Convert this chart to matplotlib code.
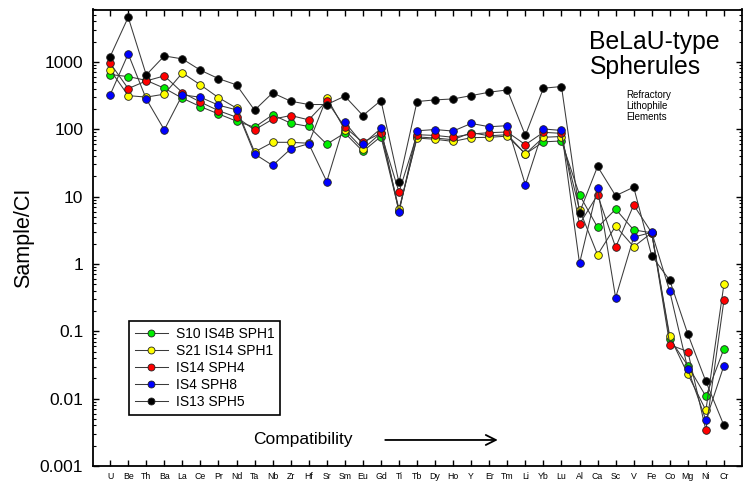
import matplotlib
matplotlib.use("Agg")
import matplotlib.pyplot as plt
from matplotlib.ticker import FixedLocator, LogLocator, NullFormatter, NullLocator

plt.rcParams['font.family'] = ['Liberation Sans', 'DejaVu Sans']

elements = ["U", "Be", "Th", "Ba", "La", "Ce", "Pr", "Nd", "Ta", "Nb", "Zr", "Hf", "Sr", "Sm",
            "Eu", "Gd", "Ti", "Tb", "Dy", "Ho", "Y", "Er", "Tm", "Li", "Yb", "Lu", "Al", "Ca",
            "Sc", "V", "Fe", "Co", "Mg", "Ni", "Cr"]

s10_is4b_sph1 = [649, 606, 532, 407, 289, 217, 169, 132, 107, 164, 123, 110, 60, 88,
                 47, 78, 6.2, 77, 74, 70, 89, 80, 83, 43, 65, 67, 10.6, 3.5,
                 6.5, 3.2, 2.9, 0.077, 0.031, 0.0108, 0.055]
s21_is14_sph1 = [760, 316, 300, 332, 687, 456, 295, 206, 46, 64, 64, 62, 295, 98,
                 51, 88, 6.5, 74, 71, 66, 75, 76, 79, 43, 76, 78, 6.4, 1.37,
                 3.65, 1.80, 2.9, 0.084, 0.023, 0.0067, 0.50]
is14_sph4 = [957, 402, 522, 620, 351, 253, 189, 151, 98, 141, 160, 138, 264, 107,
             64, 88, 11.7, 83, 81, 76, 85, 89, 91, 59, 90, 87, 3.9, 10.6,
             1.77, 7.5, 2.9, 0.063, 0.050, 0.0034, 0.29]
is4_sph8 = [324, 1315, 282, 98, 324, 299, 228, 194, 43, 29, 51, 61, 16.7, 127,
            60, 103, 5.9, 95, 99, 94, 122, 109, 113, 15, 101, 96, 1.02, 13.6,
            0.315, 2.5, 2.95, 0.39, 0.0276, 0.0048, 0.031]
is13_sph5 = [1199, 4603, 641, 1227, 1108, 753, 565, 456, 192, 347, 261, 233, 233, 310,
             160, 267, 16.2, 258, 273, 282, 316, 355, 384, 81, 407, 431, 5.8, 28,
             10.3, 13.8, 1.32, 0.57, 0.091, 0.018, 0.004]

series_names = ["S10 IS4B SPH1", "S21 IS14 SPH1", "IS14 SPH4", "IS4 SPH8", "IS13 SPH5"]
series_values = [s10_is4b_sph1, s21_is14_sph1, is14_sph4, is4_sph8, is13_sph5]
series_colors = ["#00ee00", "#ffff00", "#ff0000", "#0000ff", "#000000"]

ytick_values = [0.001, 0.01, 0.1, 1, 10, 100, 1000]
ytick_labels = ["0.001", "0.01", "0.1", "1", "10", "100", "1000"]

fig = plt.figure(figsize=(7.5, 4.88), dpi=100)
ax = fig.add_axes([93/750, 22/488, (742-93)/750, (466-9.5)/488])

x = list(range(1, len(elements) + 1))
for name, vals, col in zip(series_names, series_values, series_colors):
    ax.plot(x, vals, color="#3a3a3a", lw=0.75, marker="o", markersize=5.5,
            markerfacecolor=col, markeredgecolor="#202020", markeredgewidth=0.6,
            label=name)

ax.set_yscale("log")
ax.set_ylim(0.001, 6000)
ax.set_xlim(0.05, 36.0)

ax.set_xticks(x)
ax.set_xticklabels(elements, fontsize=6.3, color="#222222")
ax.xaxis.set_minor_locator(NullLocator())

ax.set_yticks(ytick_values)
ax.set_yticklabels(ytick_labels, fontsize=12.5)
ax.yaxis.set_minor_locator(LogLocator(base=10, subs=range(2, 10), numticks=20))
ax.yaxis.set_minor_formatter(NullFormatter())

ax.tick_params(axis="both", which="both", direction="in", top=True, right=True, colors="black")
ax.tick_params(axis="both", which="major", length=4.5, width=1.0)
ax.tick_params(axis="both", which="minor", length=2.5, width=0.8)
ax.tick_params(axis="y", which="major", pad=7)
ax.tick_params(axis="x", which="major", pad=4)

for sp in ax.spines.values():
    sp.set_linewidth(1.3)
    sp.set_color("black")

ax.set_ylabel("Sample/CI", fontsize=15.5, labelpad=4)

ax.text(0.765, 0.955, "BeLaU-type\nSpherules", transform=ax.transAxes, fontsize=17.8,
        ha="left", va="top", linespacing=1.05)
ax.text(0.822, 0.823, "Refractory\nLithophile\nElements", transform=ax.transAxes,
        fontsize=7, ha="left", va="top", linespacing=1.1)

ax.text(0.3236, 0.057, "Compatibility", transform=ax.transAxes, fontsize=12.5,
        ha="center", va="center")
ax.annotate("", xy=(0.628, 0.057), xytext=(0.446, 0.057), xycoords="axes fraction",
            textcoords="axes fraction",
            arrowprops=dict(arrowstyle="->", lw=1.3, color="black", mutation_scale=18))

leg = ax.legend(loc="upper left", bbox_to_anchor=(0.0555, 0.317), fontsize=10,
                frameon=True, fancybox=False, edgecolor="black", framealpha=1,
                handlelength=2.4, handletextpad=0.6, labelspacing=0.22,
                borderpad=0.4, borderaxespad=0)
leg.get_frame().set_linewidth(1.2)
for h in leg.legend_handles:
    h.set_markersize(5)

fig.savefig("out.png", dpi=100)
